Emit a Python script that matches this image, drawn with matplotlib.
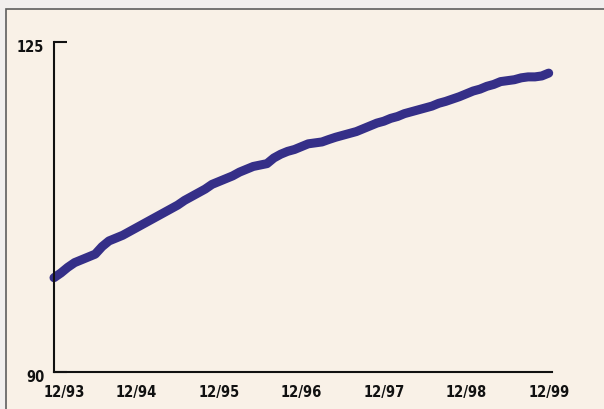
import numpy as np
import matplotlib.pyplot as plt
from matplotlib.patches import Rectangle
from matplotlib.transforms import ScaledTranslation

# monthly index values, 12/93 .. 12/99
values = [100.0, 100.5, 101.1, 101.6, 101.9, 102.2, 102.5, 103.3, 103.9, 104.2,
          104.5, 104.9, 105.3, 105.7, 106.1, 106.5, 106.9, 107.3, 107.7, 108.2,
          108.6, 109.0, 109.4, 109.9, 110.2, 110.5, 110.8, 111.2, 111.5, 111.8,
          111.95, 112.1, 112.7, 113.1, 113.4, 113.6, 113.9, 114.2, 114.3, 114.4,
          114.66, 114.9, 115.1, 115.3, 115.5, 115.8, 116.1, 116.4, 116.6, 116.9,
          117.1, 117.4, 117.6, 117.8, 118.0, 118.2, 118.5, 118.7, 118.95, 119.2,
          119.5, 119.8, 120.0, 120.3, 120.5, 120.8, 120.9, 121.0, 121.2, 121.3,
          121.3, 121.4, 121.7]
tick_labels = ['12/93', '12/94', '12/95', '12/96', '12/97', '12/98', '12/99']
y_ticks = [90, 125]

months = np.arange(len(values)) / 12.0

fig = plt.figure(figsize=(6.04, 4.09), dpi=100)
fig.patch.set_facecolor('#f1efee')
fig.patches.append(Rectangle((6 / 604, -0.05), 1.1, (409 - 9) / 409 + 0.05,
                             transform=fig.transFigure, facecolor='#f9f1e7',
                             edgecolor='#5e5e5e', linewidth=1.2, zorder=-5))

ax = fig.add_axes([54 / 604, 37 / 409, 498 / 604, 330 / 409])
ax.set_zorder(2)
ax.set_facecolor('none')
ax.plot(months, values, color='#352f88', linewidth=6.5, solid_capstyle='round',
        solid_joinstyle='round', clip_on=False)

ax.set_xlim(0, 6.04)
ax.set_ylim(90, 125)
for s in ['top', 'right']:
    ax.spines[s].set_visible(False)
for s in ['left', 'bottom']:
    ax.spines[s].set_linewidth(1.5)
    ax.spines[s].set_color('#111111')

font = dict(family='DejaVu Sans', fontstretch='condensed', fontsize=10.5, fontweight='semibold')
ax.set_yticks(y_ticks)
ax.set_yticklabels([str(v) for v in y_ticks], **font)
ax.tick_params(axis='y', direction='in', length=9, width=1.5, pad=7, colors='#111111')
ax.set_xticks(range(len(tick_labels)))
ax.set_xticklabels(tick_labels, **font)
ax.tick_params(axis='x', length=0, pad=9, colors='#111111')

# shift y labels slightly down, first x label right
for lab in ax.get_yticklabels():
    lab.set_transform(lab.get_transform() + ScaledTranslation(0, -4 / 100, fig.dpi_scale_trans))
first = ax.get_xticklabels()[0]
first.set_transform(first.get_transform() + ScaledTranslation(10 / 100, 0, fig.dpi_scale_trans))

fig.savefig('out.png', dpi=100, facecolor=fig.get_facecolor())
